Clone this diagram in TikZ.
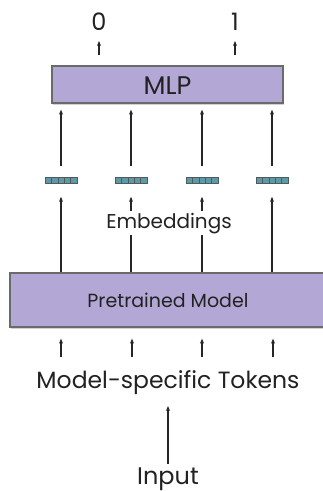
\documentclass[tikz,border=0pt]{standalone}
\usepackage{fontspec}
\setmainfont{Poppins}
\usetikzlibrary{arrows.meta,shadows}
\definecolor{boxfill}{HTML}{B3A7D6}
\definecolor{boxline}{HTML}{6A6A6A}
\definecolor{embfill}{HTML}{5E9AA6}
\definecolor{embline}{HTML}{4F5A5C}
\definecolor{txt}{HTML}{222222}
\tikzset{
  arr/.style={draw=black!85, line width=1.1pt, -{Stealth[length=5pt,width=4pt]}},
  blockbox/.style={draw=boxline, fill=boxfill, line width=1.3pt, inner sep=0pt,
    drop shadow={opacity=0.35, shadow xshift=1.2pt, shadow yshift=-1.6pt}, text=txt},
  lbl/.style={text=txt, inner sep=0pt},
  emb/.style={draw=embline, fill=embfill, line width=0.7pt, minimum width=32pt,
    minimum height=6pt, inner sep=0pt,
    drop shadow={opacity=0.25, shadow xshift=0.8pt, shadow yshift=-0.8pt},
    path picture={\foreach \i in {1,...,4}{\draw[embline, line width=0.6pt]
      ([xshift=\i*6.4pt]path picture bounding box.south west) --
      ([xshift=\i*6.4pt]path picture bounding box.north west);}}}
}
\begin{document}
\begin{tikzpicture}[x=1pt,y=-1pt]
\useasboundingbox[fill=white] (0,0) rectangle (323,491);
% outputs
\node[lbl, anchor=base, font=\fontsize{24}{28}\selectfont] (o0) at (99,30) {0};
\node[lbl, anchor=base, font=\fontsize{24}{28}\selectfont] (o1) at (235,30) {1};
% MLP
\node[blockbox, minimum width=231pt, minimum height=37pt] (mlp) at (167.5,84.5) {};
\node[lbl, anchor=base, font=\fontsize{25.5}{30}\selectfont] (mlpt) at (167.5,94) {MLP};
% embeddings
\foreach \n/\x in {1/61,2/131,3/202,4/272}{
  \node[emb] (e\n) at (\x,180.5) {};
}
% pretrained
\node[blockbox, minimum width=316pt, minimum height=54pt] (pm) at (168,300) {};
\node[lbl, anchor=base, font=\fontsize{19}{22}\selectfont] (pmt) at (168,307) {Pretrained Model};
% tokens
\node[lbl, anchor=base, font=\fontsize{23.5}{27}\selectfont] (tok) at (168,388) {Model-specific Tokens};
\node[lbl, anchor=base, font=\fontsize{24}{27}\selectfont] (inp) at (168,484) {Input};
% arrows to outputs
\draw[arr, shorten <=10pt, shorten >=11pt] (mlp.north -| o0) -- (o0.base);
\draw[arr, shorten <=10pt, shorten >=11pt] (mlp.north -| o1) -- (o1.base);
% arrows emb -> MLP and pretrained -> emb
\foreach \n in {1,...,4}{
  \draw[arr, shorten <=11pt, shorten >=6pt] (e\n.north) -- (e\n.north |- mlp.south);
  \draw[arr, shorten >=13pt] (e\n.south |- pm.north) -- (e\n.south);
}
% token arrows
\foreach \n/\x in {1/61,2/132,3/202,4/273}{
  \coordinate (tb\n) at (\x,357);
  \draw[arr, shorten >=11pt] (tb\n) -- (tb\n |- pm.south);
}
\draw[arr, shorten <=20pt, shorten >=18pt] (inp.base) -- (tok.base);
% embeddings label over lines
\node[lbl, anchor=base, fill=white, inner xsep=1pt, inner ysep=2pt, font=\fontsize{20}{24}\selectfont] (embl) at (169,228) {Embeddings};
\end{tikzpicture}
\end{document}
